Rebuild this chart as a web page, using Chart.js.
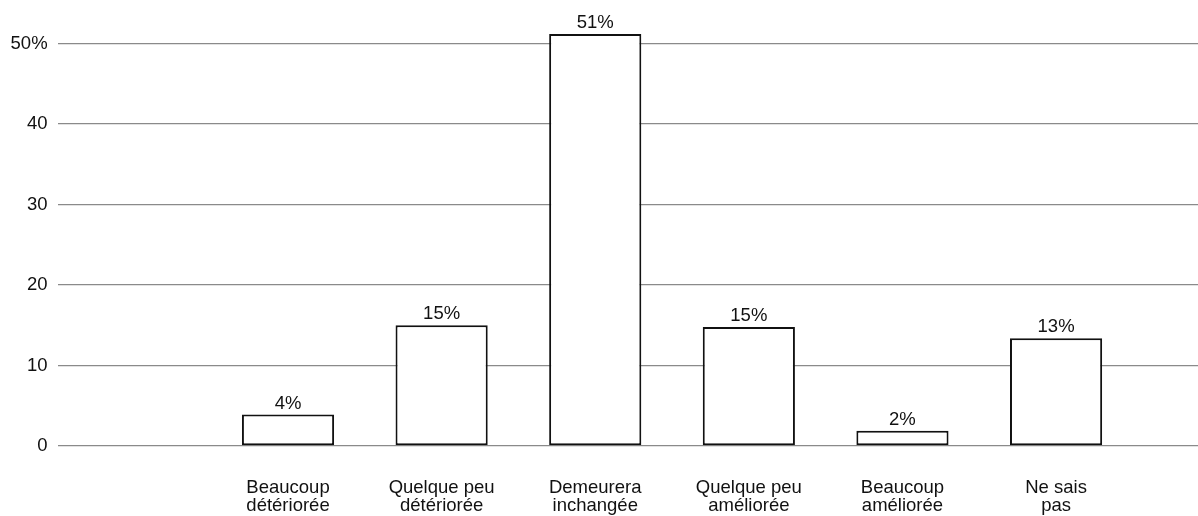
<!DOCTYPE html>
<html>
<head>
<meta charset="utf-8">
<script src="https://cdn.jsdelivr.net/npm/chart.js@4/dist/chart.umd.min.js"></script>
<style>
  html, body { margin: 0; padding: 0; background: #fff; }
</style>
</head>
<body>
<canvas id="myChart" width="1198" height="516"></canvas>
<script>
const ctx = document.getElementById('myChart');

// categories (two lines each) and values
const categories = [
    ['Beaucoup', 'détériorée'],
    ['Quelque peu', 'détériorée'],
    ['Demeurera', 'inchangée'],
    ['Quelque peu', 'améliorée'],
    ['Beaucoup', 'améliorée'],
    ['Ne sais', 'pas'],
];
const positions = [1, 2, 3, 4, 5, 6];
const values = [3.9, 15, 51.2, 14.8, 1.9, 13.4];
const valueLabels = ['4%', '15%', '51%', '15%', '2%', '13%'];
const yTicks = [0, 10, 20, 30, 40, 50];

const fontFamily = '"Liberation Sans", Arial, Helvetica, sans-serif';
const fontSize = 18.5;

// value labels above each bar
const barLabels = {
    id: 'barLabels',
    afterDatasetsDraw(chart) {
        const c = chart.ctx;
        const meta = chart.getDatasetMeta(0);
        c.save();
        c.font = fontSize + 'px ' + fontFamily;
        c.fillStyle = '#111';
        c.textAlign = 'center';
        c.textBaseline = 'alphabetic';
        meta.data.forEach((bar, i) => {
            c.fillText(valueLabels[i], bar.x, bar.y - 6);
        });
        c.restore();
    },
};

new Chart(ctx, {
    type: 'bar',
    data: {
        datasets: [
            {
                data: positions.map((x, i) => ({ x: x, y: values[i] })),
                backgroundColor: '#fff',
                borderColor: '#111',
                borderWidth: 2,
                borderSkipped: false,
                categoryPercentage: 1,
                barPercentage: 0.6,
            },
        ],
    },
    options: {
        responsive: false,
        devicePixelRatio: 1,
        animation: false,
        layout: { padding: 0 },
        plugins: {
            legend: { display: false },
            tooltip: { enabled: false },
        },
        scales: {
            x: {
                type: 'linear',
                min: -0.5,
                max: 6.924,
                offset: false,
                border: { display: false },
                grid: { display: false, drawTicks: false },
                afterBuildTicks: (scale) => {
                    scale.ticks = positions.map((v) => ({ value: v }));
                },
                afterFit: (scale) => {
                    scale.height = 70;
                },
                ticks: {
                    color: '#111',
                    padding: 33,
                    maxRotation: 0,
                    autoSkip: false,
                    font: { family: fontFamily, size: fontSize, lineHeight: 0.98 },
                    callback: (value) => categories[positions.indexOf(value)],
                },
            },
            y: {
                min: 0,
                max: 52.8,
                border: { display: false },
                grid: {
                    color: '#8a8a8a',
                    lineWidth: 1.3,
                    drawTicks: false,
                },
                afterBuildTicks: (scale) => {
                    scale.ticks = yTicks.map((v) => ({ value: v }));
                },
                afterFit: (scale) => {
                    scale.width = 57.6;
                },
                ticks: {
                    color: '#111',
                    padding: 10,
                    font: { family: fontFamily, size: fontSize },
                    callback: (value) => (value === 50 ? value + '%' : value),
                },
            },
        },
    },
    plugins: [barLabels],
});
</script>
</body>
</html>
